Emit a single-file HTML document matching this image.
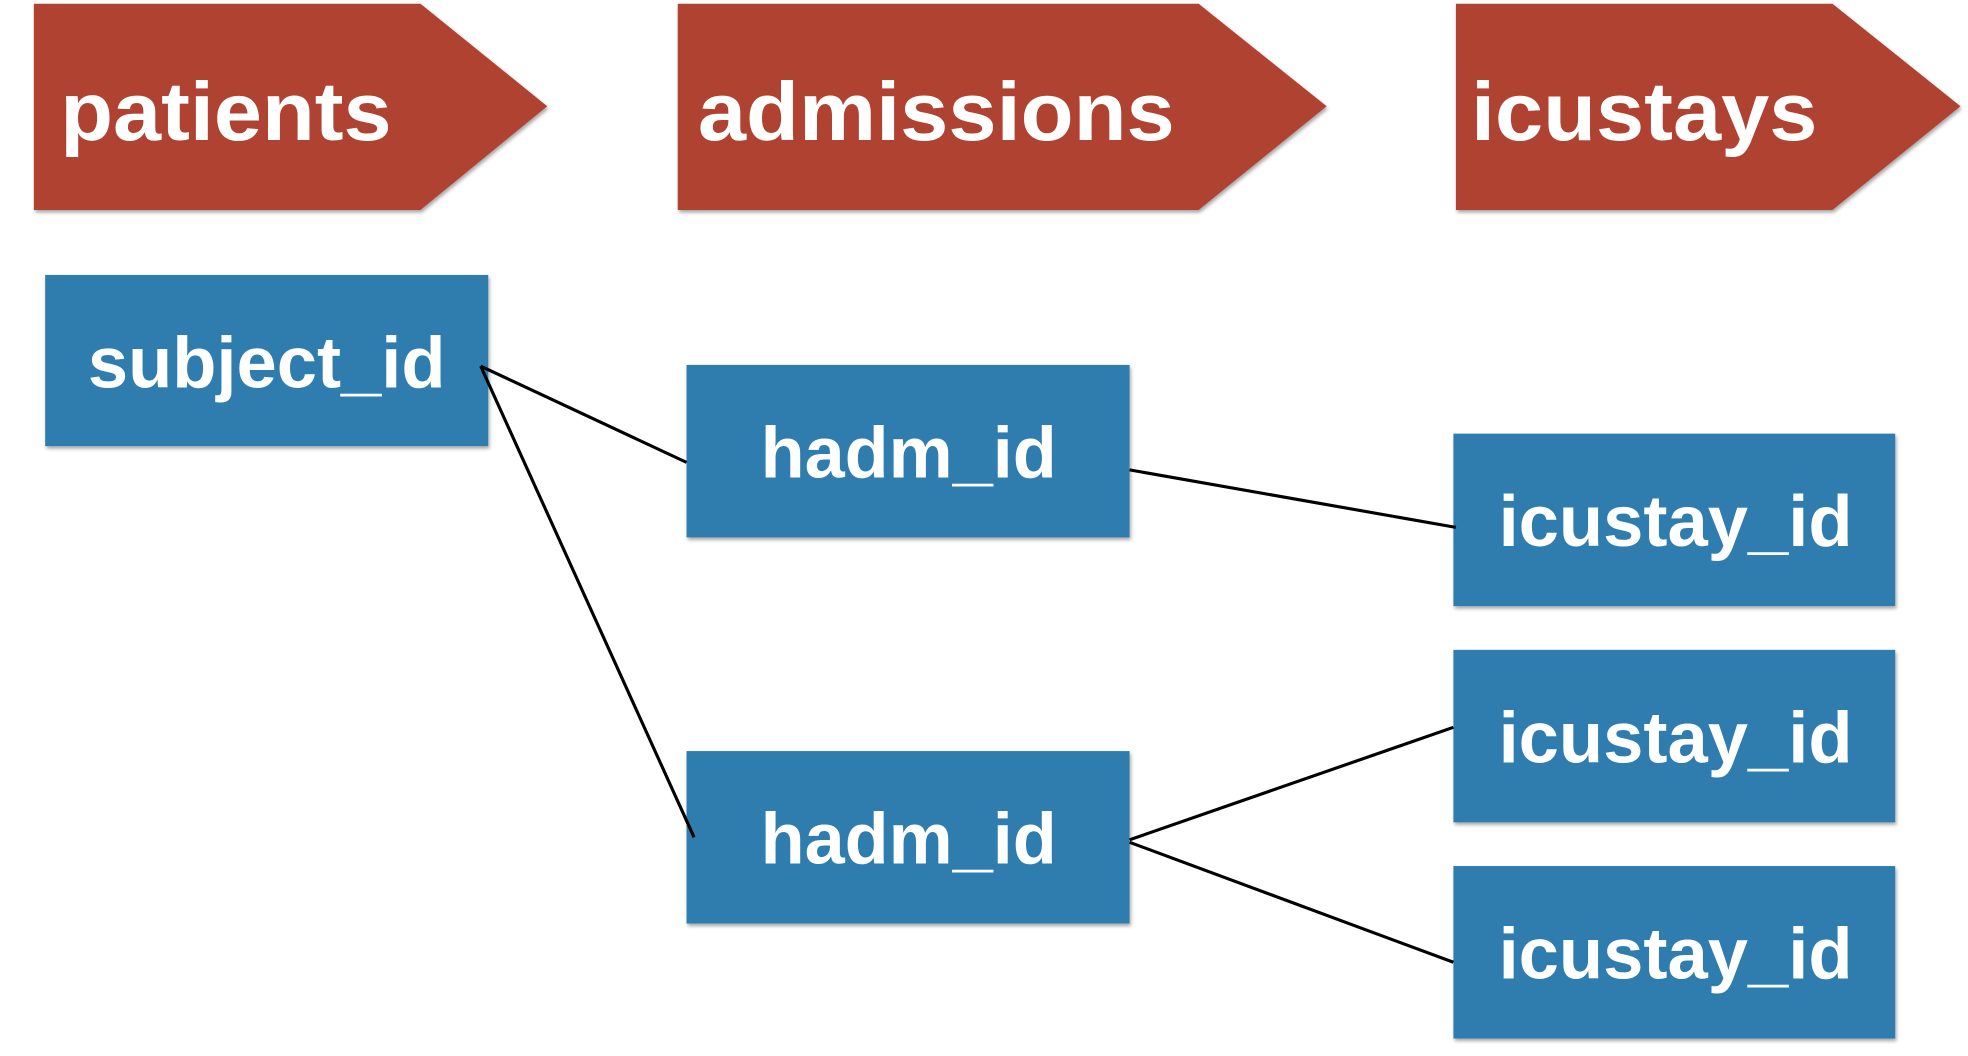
<!DOCTYPE html>
<html><head><meta charset="utf-8"><style>
html,body{margin:0;padding:0;background:#fff;}
svg{display:block}
text{font-family:"Liberation Sans",sans-serif;font-weight:bold;fill:#fff;}
</style></head><body>
<svg width="1968" height="1056" viewBox="0 0 1568 845" preserveAspectRatio="none" xmlns="http://www.w3.org/2000/svg">
<defs><filter id="s" x="-5%" y="-5%" width="115%" height="120%"><feDropShadow dx="1" dy="2" stdDeviation="1.5" flood-color="#000" flood-opacity="0.35"/></filter></defs>
<g fill="#b04332" filter="url(#s)">
<polygon points="27,3 335,3 436,85 335,168 27,168"/>
<polygon points="540,3 955,3 1057,85 955,168 540,168"/>
<polygon points="1160,3 1460,3 1562,85 1460,168 1160,168"/>
</g>
<g font-size="66">
<text x="48" y="112" textLength="264" lengthAdjust="spacingAndGlyphs">patients</text>
<text x="556" y="112" textLength="380" lengthAdjust="spacingAndGlyphs">admissions</text>
<text x="1172" y="112" textLength="276" lengthAdjust="spacingAndGlyphs">icustays</text>
</g>
<g fill="#2f7dae" filter="url(#s)">
<rect x="36" y="220" width="353" height="137"/>
<rect x="547" y="292" width="353" height="138"/>
<rect x="547" y="601" width="353" height="138"/>
<rect x="1158" y="347" width="352" height="138"/>
<rect x="1158" y="520" width="352" height="138"/>
<rect x="1158" y="693" width="352" height="138"/>
</g>
<g font-size="58">
<text x="70" y="310" textLength="285" lengthAdjust="spacingAndGlyphs">subject_id</text>
<text x="606" y="382" textLength="236" lengthAdjust="spacingAndGlyphs">hadm_id</text>
<text x="606" y="691" textLength="236" lengthAdjust="spacingAndGlyphs">hadm_id</text>
<text x="1194" y="437" textLength="282" lengthAdjust="spacingAndGlyphs">icustay_id</text>
<text x="1194" y="610" textLength="282" lengthAdjust="spacingAndGlyphs">icustay_id</text>
<text x="1194" y="783" textLength="282" lengthAdjust="spacingAndGlyphs">icustay_id</text>
</g>
<g stroke="#000" stroke-width="2.5" fill="none">
<line x1="383" y1="293" x2="547" y2="370"/>
<line x1="383" y1="293" x2="553" y2="670"/>
<line x1="900" y1="376" x2="1160" y2="422"/>
<line x1="900" y1="672" x2="1158" y2="582"/>
<line x1="900" y1="674" x2="1158" y2="770"/>
</g>
</svg>
</body></html>
